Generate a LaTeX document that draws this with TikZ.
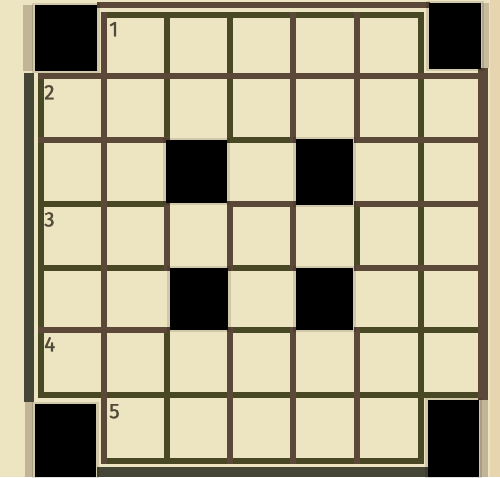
\documentclass[tikz,border=0pt]{standalone}
\usepackage{fontspec}
\setmainfont{Fira Sans}
\newfontfamily\numfont[FakeBold=1.2]{Fira Sans}
\definecolor{paper}{RGB}{237,228,193}
\definecolor{brn}{RGB}{92,72,56}
\definecolor{grn}{RGB}{72,72,36}
\definecolor{slate}{RGB}{70,70,55}
\definecolor{numc}{RGB}{80,74,56}
\begin{document}
\begin{tikzpicture}[x=1pt,y=-1pt,
  bline/.style={line width=6pt,brn,line cap=rect},
  gline/.style={line width=6pt,grn,line cap=rect},
  blk/.style={fill=black},
  shade/.style={fill=black,opacity=0.12},
  num/.style={anchor=north west,inner sep=0pt,text=numc,font=\numfont\fontsize{21}{21}\selectfont}]
\useasboundingbox (0,0) rectangle (500,477);
\fill[paper] (0,0) rectangle (500,477);
\fill[paper!85!brown] (490,0) rectangle (500,477);
% grid coordinates
\foreach \i/\x in {0/41,1/104,2/167,3/230,4/293,5/357,6/421,7/483}
  \foreach \j/\y in {0/15,1/76,2/140,3/204,4/268,5/330,6/395,7/461}
    \coordinate (p\i\j) at (\x,\y);
% green vertical segments (column line i, row r)
\foreach \i/\r in {2/1,3/1,6/1, 0/2,2/2,3/2,6/2, 0/3,6/3, 0/4,5/4,6/4, 0/5,6/5, 0/6,2/6,6/6, 2/7,6/7}{
  \pgfmathtruncatemacro{\q}{\r-1}
  \draw[gline] (p\i\q) -- (p\i\r);}
% green horizontal segments (row line j, column c)
\foreach \j/\c in {0/2,0/3,0/4,0/5,0/6, 2/4, 3/1,3/2, 4/1,4/2,4/4, 5/4,5/6,5/7, 6/1,6/2,6/3,6/4,6/5,6/6,6/7, 7/2,7/3,7/4,7/5,7/6}{
  \pgfmathtruncatemacro{\q}{\c-1}
  \draw[gline] (p\q\j) -- (p\c\j);}
% brown vertical segments
\foreach \i/\r in {1/1,4/1,5/1, 1/2,4/2,5/2, 1/3, 1/4,2/4,3/4,4/4, 1/5, 1/6,3/6,4/6,5/6, 1/7,3/7,4/7,5/7}{
  \pgfmathtruncatemacro{\q}{\r-1}
  \draw[bline] (p\i\q) -- (p\i\r);}
% brown horizontal segments
\foreach \j/\c in {1/1,1/2,1/3,1/4,1/5,1/6,1/7, 2/1,2/2,2/6,2/7, 3/4,3/6,3/7, 4/6,4/7, 5/1,5/2}{
  \pgfmathtruncatemacro{\q}{\c-1}
  \draw[bline] (p\q\j) -- (p\c\j);}
% outer frame bars
\draw[brn,line width=6pt] (97,5) -- (430,5);
\fill[slate] (24,73) rectangle (34,402);
\fill[brn] (478,68) rectangle (488,400);
\fill[slate] (97,467) rectangle (428,477);
\fill[brn,opacity=0.3] (23,5) rectangle (33,71);
\fill[brn,opacity=0.3] (25,402) rectangle (33,477);
\fill[brn,opacity=0.25] (482,3) rectangle (489,68);
\fill[brn,opacity=0.3] (480,400) rectangle (488,477);
% black squares with soft fringe
\foreach \a/\b/\c/\d in {35/5/97/71, 429/3/481/69, 35/404/96/477, 428/400/479/477,
  166/140/227/203, 296/139/353/205, 170/268/228/330, 296/268/353/330}{
  \fill[shade] (\a-3,\b-2) rectangle (\c+3,\d+2);
  \fill[blk] (\a,\b) rectangle (\c,\d);}
% clue numbers
\node[num] (n1) at (109,22) {1};
\node[num] (n2) at (44,85) {2};
\node[num] (n3) at (44,212) {3};
\node[num] (n4) at (44,337) {4};
\node[num] (n5) at (109,404) {5};
\end{tikzpicture}
\end{document}
